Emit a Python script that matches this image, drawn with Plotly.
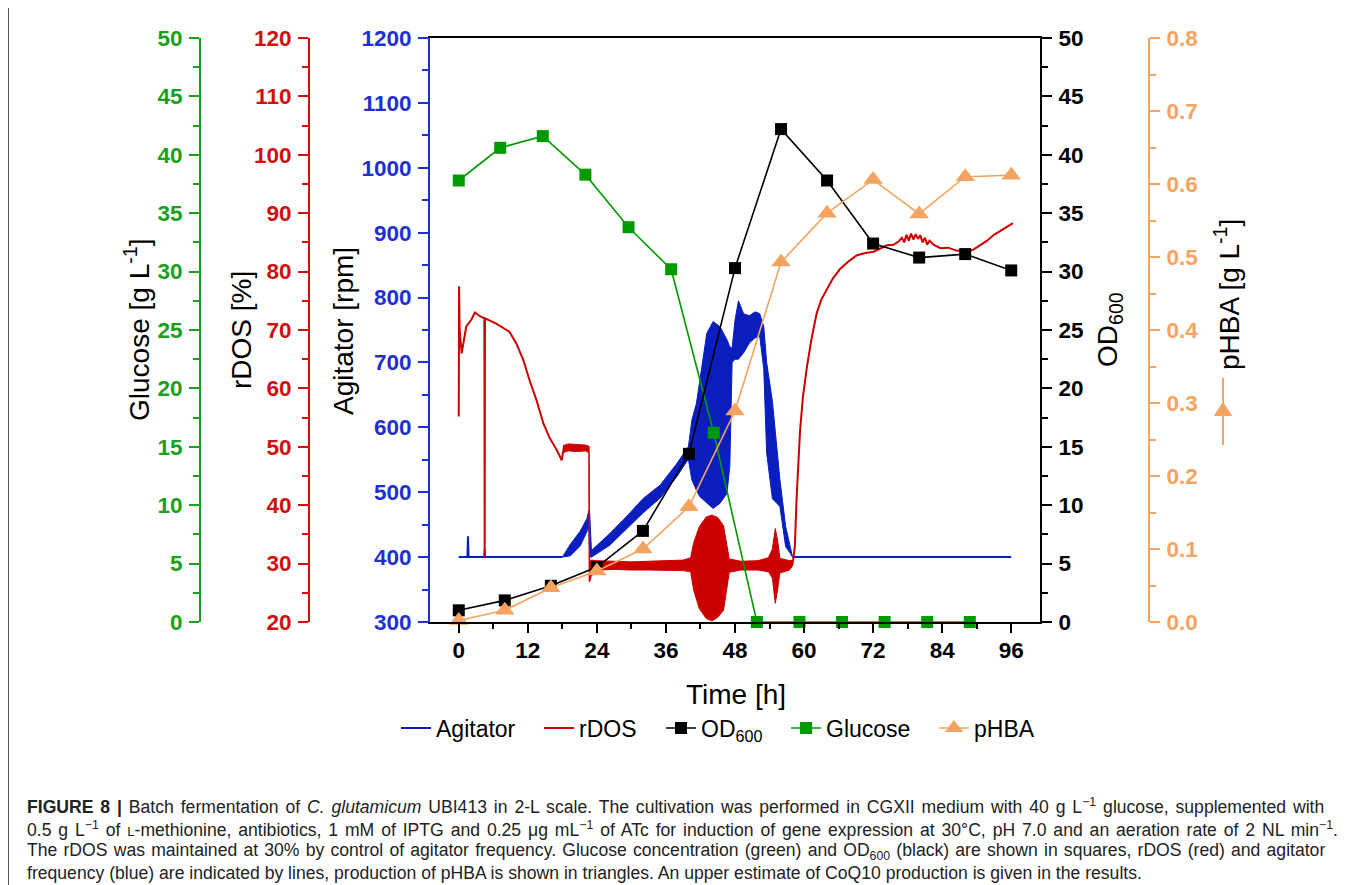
import plotly.graph_objects as go

# page body has an 8 px margin; figure is sized so it fits the 1346x885 window exactly
OFF = 8
W, H = 1346 - OFF, 885 - OFF

# ---------------- data ----------------
od_time = [0, 8, 16, 24, 32, 40, 48, 56, 64, 72, 80, 88, 96]
od600 = [1.0, 1.85, 3.1, 4.7, 7.8, 14.4, 30.3, 42.2, 37.8, 32.4, 31.2, 31.5, 30.1]
phba = [0.002, 0.016, 0.047, 0.070, 0.100, 0.158, 0.289, 0.493, 0.560, 0.606, 0.559, 0.610, 0.612]

glucose_time = [0, 7.2, 14.6, 22.0, 29.5, 36.9, 44.3, 51.8, 59.2, 66.6, 74.0, 81.4, 88.8]
glucose = [37.8, 40.6, 41.6, 38.3, 33.8, 30.2, 16.2, 0, 0, 0, 0, 0, 0]

# agitator: quiet parts as a line
agit_line_time = [0, 1.5, 1.6, 1.7, 4.45, 4.5, 4.55, 18.0, 18.0, 58.0, 96.0]
agit_line_rpm = [400, 400, 432, 400, 400, 412, 400, 400, None, 400, 400]
# agitator: noisy part as an envelope (low / high)
agit_band_time = [18.0, 19.4, 21.1, 22.3, 22.6, 22.75, 23.05, 26.2, 29.1, 32.0, 35.0, 37.8, 39.9,
                  40.5, 41.3, 41.9, 43.1, 44.2, 45.4, 46.6, 47.1, 47.5, 48.0, 48.6, 49.5, 50.5,
                  51.5, 52.3, 53.0, 53.5, 54.5, 55.8, 56.8, 57.6, 58.0]
agit_band_lo = [400, 402, 417, 440, 447, 400, 400, 418, 443, 468, 491, 523, 551,
                519, 503, 493, 483, 475, 483, 498, 540, 700, 705, 705, 715, 730,
                738, 740, 690, 560, 490, 478, 416, 406, 400]
agit_band_hi = [400, 420, 440, 460, 472, 468, 410, 436, 462, 490, 511, 543, 570,
                611, 637, 673, 745, 763, 755, 735, 724, 722, 765, 795, 775, 772,
                778, 775, 755, 700, 640, 520, 447, 416, 402]

# rDOS: smooth parts as a line
rdos_line_time = [0.0, 0.05, 0.15, 0.5, 1.3, 2.2, 2.8, 3.6, 4.45, 4.5, 4.55, 6.5, 8.8, 10.0, 11.2,
                  12.3, 13.5, 14.7, 15.8, 17.0, 17.9, 18.1, 18.3, 18.3,
                  58.1, 58.4, 58.7, 59.3, 59.8, 60.5, 61.3, 62.2, 63.0, 64.0, 65.0, 66.3, 67.8,
                  69.2, 70.7, 72.1, 73.3, 74.4, 75.5, 76.5, 77.0, 77.4, 77.8, 78.2, 78.6, 79.0,
                  79.4, 79.8, 80.2, 80.6, 81.0, 81.4, 81.8, 82.5, 83.7, 85.0, 86.5, 88.3, 89.5,
                  90.6, 91.8, 93.0, 94.0, 95.0, 95.9, 96.3]
rdos_line_pct = [55.2, 77.5, 70.0, 66.0, 70.6, 71.8, 73.0, 72.4, 72.0, 31.0, 72.0, 71.1, 69.7, 67.7, 64.9,
                 61.4, 58.0, 54.0, 51.5, 49.5, 47.7, 49.0, 50.0, None,
                 30.5, 33.0, 41.1, 52.7, 58.5, 63.7, 68.5, 72.9, 75.2, 77.0, 78.8, 80.5, 81.8,
                 82.8, 83.2, 83.4, 84.0, 84.5, 84.6, 85.2, 85.8, 85.0, 86.3, 85.3, 86.5, 85.5,
                 86.4, 85.6, 86.2, 85.0, 85.8, 84.6, 85.3, 84.6, 84.0, 84.1, 83.6, 83.4, 83.8,
                 84.5, 85.3, 86.3, 86.9, 87.6, 88.0, 88.3]
# rDOS: noisy part as an envelope (low / high)
rdos_band_time = [18.1, 19.0, 20.5, 22.0, 22.6, 22.65, 22.75, 23.0, 24.0, 27.0, 30.0, 33.0, 36.0,
                  39.0, 40.3, 40.8, 41.8, 43.0, 44.0, 45.0, 46.0, 46.6, 47.0, 49.0, 52.0, 53.8,
                  54.5, 55.0, 55.4, 55.8, 57.5, 58.1]
rdos_band_lo = [49.0, 49.3, 49.2, 49.3, 49.0, 26.9, 26.9, 27.8, 28.9, 29.0, 28.9, 28.9, 28.9,
                28.8, 28.6, 25.5, 22.3, 20.6, 20.2, 20.8, 22.0, 25.8, 28.5, 28.9, 28.9, 28.6,
                27.5, 23.2, 25.5, 28.4, 28.9, 29.8]
rdos_band_hi = [50.2, 50.5, 50.4, 50.3, 50.1, 50.1, 30.3, 30.6, 30.5, 30.4, 30.3, 30.4, 30.5,
                30.6, 31.0, 33.5, 36.3, 38.0, 38.3, 37.9, 36.5, 33.0, 30.8, 30.4, 30.5, 31.0,
                32.5, 36.0, 34.0, 30.9, 30.5, 30.6]

time_ticks = [0, 12, 24, 36, 48, 60, 72, 84, 96]

# ---------------- styling ----------------
FONT = "Liberation Sans, Arial, Helvetica, sans-serif"
BLUE = "#0a1ec0"
BLUE_AX = "#1f2fd0"
RED = "#cc0000"
RED_AX = "#d10f0f"
GREEN = "#009a00"
GREEN_AX = "#1aa01a"
ORANGE = "#f4a460"
BLACK = "#000000"


def fx(p):  # screen pixel -> paper fraction
    return (p - OFF) / W


def fy(p):
    return 1 - (p - OFF) / H


X_DOM = [fx(430), fx(1040)]
Y_DOM = [fy(622), fy(38)]

fig = go.Figure()

# agitator
fig.add_trace(go.Scatter(
    x=agit_band_time + agit_band_time[::-1], y=agit_band_hi + agit_band_lo[::-1],
    mode="lines", fill="toself", fillcolor=BLUE, line=dict(color=BLUE, width=1),
    yaxis="y", showlegend=False, hoverinfo="skip"))
fig.add_trace(go.Scatter(
    x=agit_line_time, y=agit_line_rpm, mode="lines", name="Agitator",
    line=dict(color=BLUE, width=2), yaxis="y", connectgaps=False, legend="legend"))

# rDOS
fig.add_trace(go.Scatter(
    x=rdos_band_time + rdos_band_time[::-1], y=rdos_band_hi + rdos_band_lo[::-1],
    mode="lines", fill="toself", fillcolor=RED, line=dict(color=RED, width=1),
    yaxis="y2", showlegend=False, hoverinfo="skip"))
fig.add_trace(go.Scatter(
    x=rdos_line_time, y=rdos_line_pct, mode="lines", name="rDOS",
    line=dict(color=RED, width=2), yaxis="y2", connectgaps=False, legend="legend2"))

# glucose
fig.add_trace(go.Scatter(
    x=glucose_time, y=glucose, mode="lines+markers", name="Glucose",
    line=dict(color=GREEN, width=1.6), marker=dict(symbol="square", size=12, color=GREEN),
    yaxis="y3", legend="legend4", cliponaxis=False))

# OD600
fig.add_trace(go.Scatter(
    x=od_time, y=od600, mode="lines+markers", name="OD<sub>600</sub>",
    line=dict(color=BLACK, width=1.6), marker=dict(symbol="square", size=12, color=BLACK),
    yaxis="y4", legend="legend3", cliponaxis=False))

# pHBA
fig.add_trace(go.Scatter(
    x=od_time, y=phba, mode="lines+markers", name="pHBA",
    line=dict(color=ORANGE, width=1.6), marker=dict(symbol="triangle-up", size=17, color=ORANGE),
    yaxis="y5", legend="legend5", cliponaxis=False))


def tick_font(c):
    return dict(family=FONT, size=22.5, color=c, weight="bold")


def yax(color, rng, dtick, minor, **kw):
    d = dict(range=rng, dtick=dtick, tick0=rng[0], domain=Y_DOM, showline=True, linecolor=color,
             linewidth=2, ticks="outside", ticklen=10, tickwidth=2, tickcolor=color,
             tickfont=tick_font(color), showgrid=False, zeroline=False, ticklabelstandoff=2,
             minor=dict(dtick=minor, ticks="outside", ticklen=6, tickwidth=1.5, tickcolor=color,
                        showgrid=False))
    d.update(kw)
    return d


fig.update_layout(
    width=W, height=H, autosize=False,
    margin=dict(l=0, r=0, t=0, b=0, autoexpand=False),
    paper_bgcolor="white", plot_bgcolor="white",
    font=dict(family=FONT, color=BLACK),
    xaxis=dict(domain=X_DOM, range=[-5, 101], tickvals=time_ticks, ticks="outside",
               ticklen=9, tickwidth=2, tickcolor=BLACK, showline=True, linecolor=BLACK,
               linewidth=2, mirror=True, showgrid=False, zeroline=False,
               tickfont=tick_font(BLACK), ticklabelstandoff=-2,
               minor=dict(dtick=6, tick0=0, ticks="outside", ticklen=5, tickwidth=1.5,
                          tickcolor=BLACK, showgrid=False)),
    yaxis=yax(BLUE_AX, [300, 1200], 100, 50, anchor="x", side="left"),
    yaxis2=yax(RED_AX, [20, 120], 10, 5, anchor="free", position=fx(309), side="left",
               overlaying="y"),
    yaxis3=yax(GREEN_AX, [0, 50], 5, 2.5, anchor="free", position=fx(200), side="left",
               overlaying="y"),
    yaxis4=yax(BLACK, [0, 50], 5, 2.5, anchor="x", side="right", overlaying="y"),
    yaxis5=yax(ORANGE, [0, 0.8], 0.1, 0.05, anchor="free", position=fx(1149), side="right",
               overlaying="y", tickformat=".1f"),
    showlegend=True,
)

leg_common = dict(orientation="h", yanchor="middle", y=fy(728), xanchor="left",
                  font=dict(family=FONT, size=23, color=BLACK), bgcolor="rgba(0,0,0,0)",
                  borderwidth=0, itemwidth=30)
leg_x = [396, 539, 661, 786, 934]
fig.update_layout(
    legend=dict(leg_common, x=fx(leg_x[0])),
    legend2=dict(leg_common, x=fx(leg_x[1])),
    legend3=dict(leg_common, x=fx(leg_x[2])),
    legend4=dict(leg_common, x=fx(leg_x[3])),
    legend5=dict(leg_common, x=fx(leg_x[4])),
)

# axis titles
title_font = dict(family=FONT, size=28, color=BLACK)
titles = [
    ("Glucose [g L<sup>-1</sup>]", 137, 330, -90),
    ("rDOS [%]", 242, 330, -90),
    ("Agitator [rpm]", 343, 331, -90),
    ("OD<sub>600</sub>", 1110, 330, -90),
    ("pHBA [g L<sup>-1</sup>]", 1227, 295, -90),
    ("Time [h]", 736, 694, 0),
]
for txt, px, py, ang in titles:
    fig.add_annotation(text=txt, xref="paper", yref="paper", x=fx(px), y=fy(py),
                       xanchor="center", yanchor="middle", showarrow=False,
                       textangle=ang, font=title_font)

# pHBA symbol next to its axis title
fig.add_shape(type="line", xref="paper", yref="paper", x0=fx(1223), x1=fx(1223),
              y0=fy(378), y1=fy(445), line=dict(color=ORANGE, width=2))
fig.add_shape(type="path", xref="paper", yref="paper",
              path=f"M {fx(1214.5)} {fy(415.5)} L {fx(1231.5)} {fy(415.5)} L {fx(1223)} {fy(402.5)} Z",
              fillcolor=ORANGE, line=dict(color=ORANGE, width=1))

# left border of the figure panel
fig.add_shape(type="line", xref="paper", yref="paper", x0=fx(8.5), x1=fx(8.5), y0=0, y1=1,
              line=dict(color="#555555", width=1))

# caption (justified lines approximated with word spacing)
cap_size = 17.6
caption = [
    ("<b>FIGURE 8 |</b> Batch fermentation of <i>C. glutamicum</i> UBI413 in 2-L scale. The cultivation "
     "was performed in CGXII medium with 40 g L<sup>\u22121</sup> glucose, supplemented with", 2.0),
    ("0.5 g L<sup>\u22121</sup> of <span style='font-size:13px'>L</span>-methionine, antibiotics, 1 mM of "
     "IPTG and 0.25 \u03bcg mL<sup>\u22121</sup> of ATc for induction of gene expression at 30\u00b0C, "
     "pH 7.0 and an aeration rate of 2 NL min<sup>\u22121</sup>.", 2.0),
    ("The rDOS was maintained at 30% by control of agitator frequency. Glucose concentration (green) "
     "and OD<sub>600</sub> (black) are shown in squares, rDOS (red) and agitator", 1.3),
    ("frequency (blue) are indicated by lines, production of pHBA is shown in triangles. An upper "
     "estimate of CoQ10 production is given in the results.", 0),
]
cap_y = [806, 829, 851, 873]
for (txt, ws), py in zip(caption, cap_y):
    if ws:
        txt = f"<span style='word-spacing:{ws}px'>{txt}</span>"
    fig.add_annotation(text=txt, xref="paper", yref="paper", x=fx(25), y=fy(py),
                       xanchor="left", yanchor="middle", showarrow=False,
                       font=dict(family=FONT, size=cap_size, color="#222222"), align="left")

fig.write_html("out.html")
